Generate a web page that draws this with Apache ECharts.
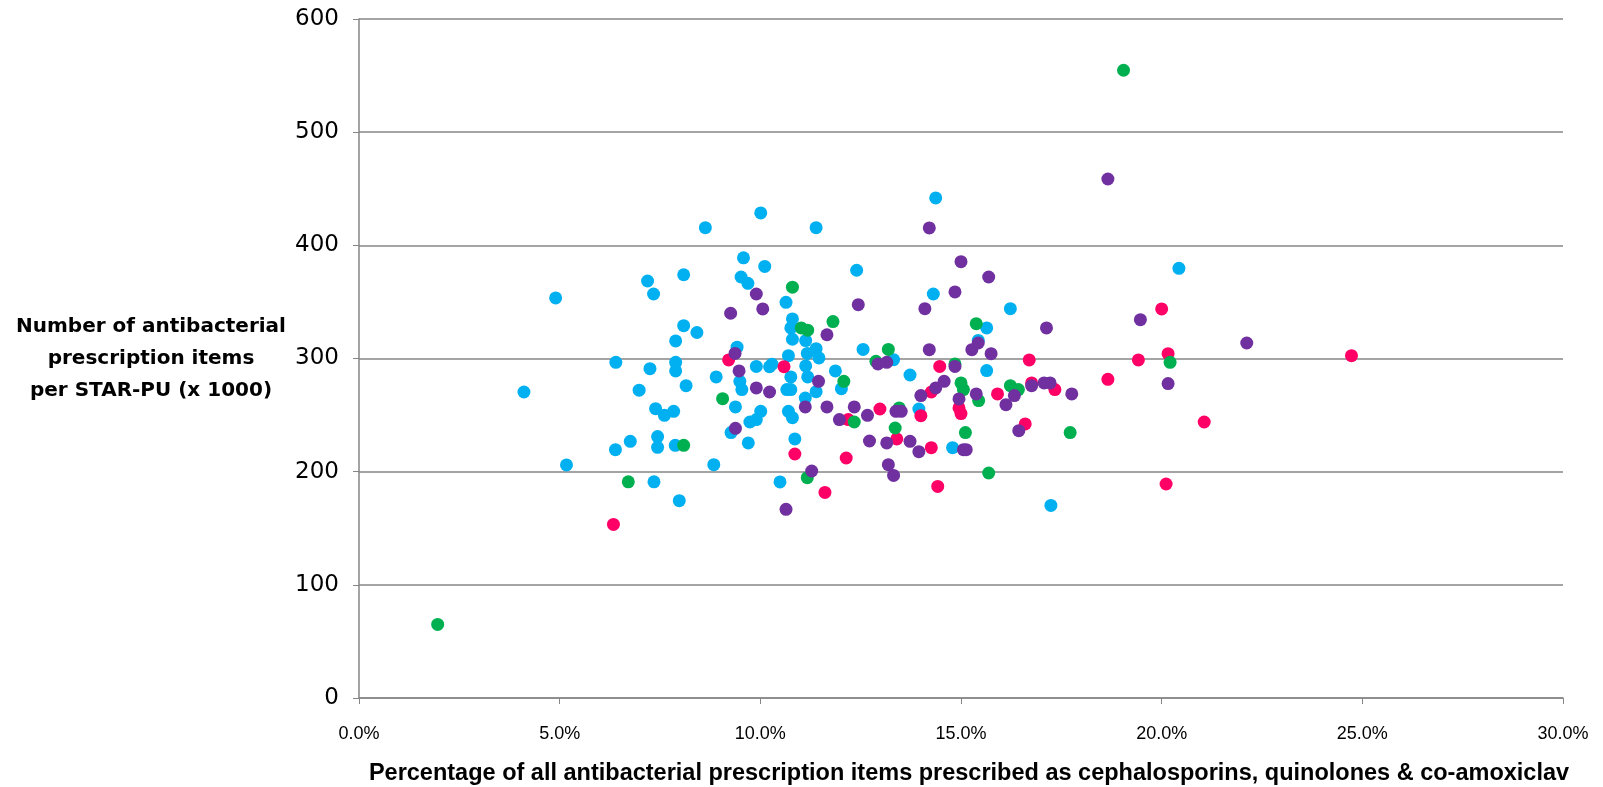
<!DOCTYPE html>
<html>
<head>
<meta charset="utf-8">
<script src="https://cdn.jsdelivr.net/npm/echarts@6/dist/echarts.min.js"></script>
<style>
  html, body { margin: 0; padding: 0; background: #fff; }
  #chart { width: 1603px; height: 787px; }
</style>
</head>
<body>
<div id="chart"></div>
<script>
// x = % of antibacterial items as cephalosporins, quinolones & co-amoxiclav, y = items per STAR-PU (x 1000)
var bluePoints = [
  [4.11,270.4],[4.9,353.5],[5.17,206],[6.4,296.6],[6.39,219.4],[6.76,226.8],[6.98,272],[7.19,368.5],
  [7.25,291],[7.34,357],[7.35,191],[7.39,255.7],[7.44,231],[7.44,221.5],[7.61,249.8],[7.84,253.3],
  [7.89,315.5],[7.89,296.6],[7.89,289],[7.88,223.3],[7.98,174.4],[8.09,374],[8.09,329],[8.15,276],
  [8.42,323],[8.63,415.6],[8.9,283.7],[8.84,206.2],[9.27,234.5],[9.42,310],[9.38,257.2],[9.49,279.8],
  [9.54,272.5],[9.52,372],[9.58,389],[9.69,366.4],[9.7,225.4],[9.74,243.9],[9.9,246],[9.9,293],
  [10.01,253.3],[10.01,428.6],[10.11,381.4],[10.23,292.7],[10.29,295],[10.49,190.9],[10.64,349.6],
  [10.7,302.5],[10.66,272.5],[10.76,272.5],[10.7,253.3],[10.8,247.7],[10.76,283.7],[10.8,335],
  [10.76,327],[10.8,317],[10.86,228.9],[11.13,315.8],[11.17,304.5],[11.39,308.7],[11.46,300.5],
  [11.13,293.4],[11.18,283.7],[11.39,270.7],[11.12,265],[11.39,415.6],[11.87,289],[12.02,273.3],
  [12.4,378],[12.56,308],[13.32,299],[13.73,285.4],[13.95,255.4],[14.31,357],[14.37,441.9],
  [14.79,221.2],[15.43,316],[15.64,327],[15.64,289.3],[16.23,344],[17.24,170.2],[20.43,379.7]
];
var pinkPoints = [
  [6.34,153.4],[9.21,298.7],[10.59,292.8],[10.86,215.6],[11.61,181.7],[12.14,212.1],[12.19,246],
  [12.98,255.4],[13.4,228.9],[14.0,249.5],[14.26,270.4],[14.26,221.2],[14.42,187],[14.47,293],
  [14.95,256.3],[15.0,251.3],[15.91,268.7],[16.6,242.2],[16.7,298.7],[16.76,278.4],[17.34,272.5],
  [18.66,281.6],[19.42,298.7],[20.0,343.8],[20.11,189.1],[20.16,304.3],[21.06,243.9],[24.73,302.5]
];
var greenPoints = [
  [1.96,65],[6.71,191],[8.09,223.3],[9.06,264.5],[10.8,363],[11.02,327],[11.18,325],[11.81,332.6],
  [11.17,194.7],[12.08,279.8],[12.34,243.9],[12.88,297.5],[13.19,308],[13.36,238.6],[13.46,256.3],
  [14.85,295.2],[15.0,278.4],[15.06,272.5],[15.11,234.5],[15.38,330.8],[15.44,262.8],[15.69,198.8],
  [16.23,276],[16.43,272.5],[17.72,234.5],[19.05,554.7],[20.21,296.6]
];
var purplePoints = [
  [9.26,340],[9.37,304.5],[9.47,289],[9.38,238.3],[9.9,357],[10.06,343.8],[9.9,274],[10.23,270.4],
  [10.64,166.7],[11.12,257.2],[11.28,200.6],[11.45,279.8],[11.66,321],[11.66,257.2],[11.97,246],
  [12.34,257.2],[12.44,347.6],[12.67,249.8],[12.72,227.1],[12.93,295.2],[13.15,296.6],[13.15,225.4],
  [13.19,206.2],[13.32,196.7],[13.38,253.3],[13.51,253.3],[13.73,226.8],[13.95,217.7],[14.0,267.2],
  [14.1,344],[14.21,415.4],[14.21,307.8],[14.37,274],[14.58,279.8],[14.85,358.8],[14.85,293],
  [14.95,264.3],[15.0,385.6],[15.06,219.4],[15.13,219.4],[15.27,307.8],[15.38,268.7],[15.43,313.7],
  [15.69,372],[15.75,304.3],[16.12,259.2],[16.33,267.2],[16.44,236.2],[16.76,276],[17.07,278.4],
  [17.22,278.4],[17.13,327],[17.76,268.7],[18.66,458.6],[19.47,334.3],[20.16,277.8],[22.12,313.7]
];

var chart = echarts.init(document.getElementById('chart'));

function dots(name, color, data) {
  return {
    name: name,
    type: 'scatter',
    symbolSize: 13,
    itemStyle: { color: color, opacity: 1 },
    data: data
  };
}

chart.setOption({
  animation: false,
  grid: { left: 359, right: 40, top: 19, bottom: 89, outerBoundsMode: 'none' },
  xAxis: {
    type: 'value',
    min: 0,
    max: 30,
    interval: 5,
    name: 'Percentage of all antibacterial prescription items prescribed as cephalosporins, quinolones & co-amoxiclav',
    nameLocation: 'middle',
    nameGap: 76,
    nameTextStyle: {
      fontFamily: 'Liberation Sans, sans-serif',
      fontWeight: 'bold',
      fontSize: 23.5,
      padding: [0, 0, 0, 16],
      color: '#000',
      verticalAlign: 'middle'
    },
    axisLine: { show: true, lineStyle: { color: '#868686', width: 1.5 } },
    axisTick: { show: true, length: 6, lineStyle: { color: '#868686' } },
    splitLine: { show: false },
    axisLabel: {
      margin: 27,
      fontFamily: 'Liberation Sans, sans-serif',
      fontSize: 18,
      color: '#000',
      formatter: function (v) { return v.toFixed(1) + '%'; }
    }
  },
  yAxis: {
    type: 'value',
    min: 0,
    max: 600,
    interval: 100,
    name: 'Number of antibacterial\nprescription items\nper STAR-PU (x 1000)',
    nameLocation: 'middle',
    nameRotate: 0,
    nameGap: 208,
    nameTextStyle: {
      fontFamily: 'DejaVu Sans, sans-serif',
      fontWeight: 'bold',
      fontSize: 20,
      lineHeight: 32,
      padding: [17, 0, 0, 0],
      color: '#000',
      align: 'center',
      verticalAlign: 'middle'
    },
    axisLine: { show: true, lineStyle: { color: '#868686', width: 1.5 } },
    axisTick: { show: true, length: 6, lineStyle: { color: '#868686' } },
    splitLine: { show: true, lineStyle: { color: '#868686', width: 1.5 } },
    axisLabel: {
      margin: 20,
      fontFamily: 'DejaVu Sans, sans-serif',
      fontSize: 23,
      color: '#000'
    }
  },
  series: [
    dots('Blue', '#00B0F0', bluePoints),
    dots('Pink', '#FF0066', pinkPoints),
    dots('Green', '#00B050', greenPoints),
    dots('Purple', '#7030A0', purplePoints)
  ]
});
</script>
</body>
</html>
